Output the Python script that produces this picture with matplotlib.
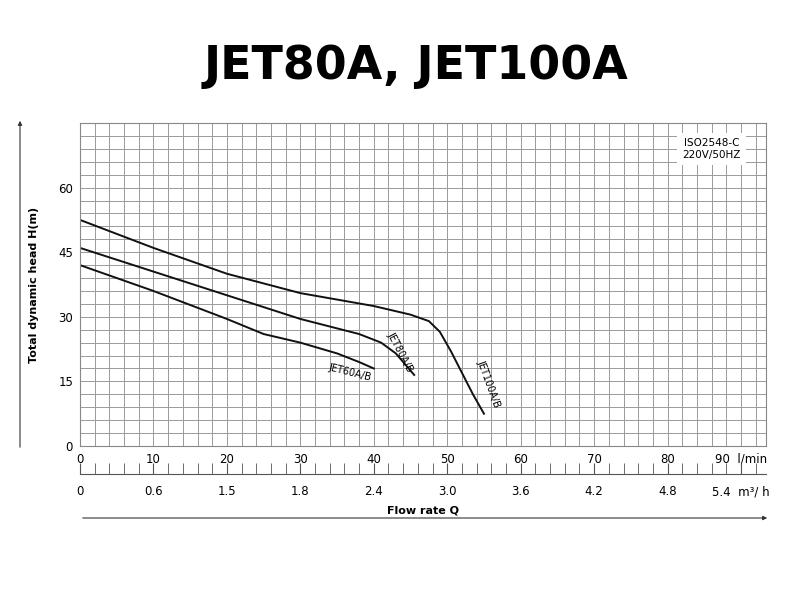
import numpy as np
import matplotlib
matplotlib.use("Agg")
import matplotlib.pyplot as plt
from matplotlib.ticker import MultipleLocator

q100 = [0, 10, 20, 30, 40, 45, 47.5, 49, 50.5, 52, 53.5, 55]
h100 = [52.5, 46, 40, 35.5, 32.5, 30.5, 29, 26.5, 22, 17, 12, 7.5]
q80 = [0, 10, 20, 30, 38, 41, 43, 44.5, 45.5]
h80 = [46, 40.5, 35, 29.5, 26, 24, 21.5, 18.5, 16.5]
q60 = [0, 10, 20, 25, 30, 35, 38, 40]
h60 = [42, 36, 29.5, 26, 24, 21.5, 19.5, 18]
xticks_lmin = [0, 10, 20, 30, 40, 50, 60, 70, 80, 90]
xticks_m3h = ["0", "0.6", "1.5", "1.8", "2.4", "3.0", "3.6", "4.2", "4.8", "5.4"]
yticks = [0, 15, 30, 45, 60]

fig = plt.figure(figsize=(8, 6.01), dpi=100)
W, H = 800, 601
def rect(x0, y0, x1, y1):
    return [x0 / W, 1 - y1 / H, (x1 - x0) / W, (y1 - y0) / H]

ax = fig.add_axes(rect(80, 123, 766, 446))
XMAX, YMAX = 93.4, 75
ax.set_xlim(0, XMAX); ax.set_ylim(0, YMAX)
ax.xaxis.set_minor_locator(MultipleLocator(2))
ax.yaxis.set_minor_locator(MultipleLocator(3))
ax.grid(which='both', color='#9a9a9a', lw=0.7)
ax.set_axisbelow(True)
for s in ax.spines.values():
    s.set_color('#888888'); s.set_linewidth(0.8)
ax.set_xticks(xticks_lmin)
ax.set_xticklabels([str(v) for v in xticks_lmin[:-1]] + ["90  l/min"], fontsize=8.5)
ax.set_yticks(yticks)
ax.tick_params(which='both', length=0, labelsize=8.5, pad=5)

for q, h in [(q100, h100), (q80, h80), (q60, h60)]:
    ax.plot(q, h, color='#111111', lw=1.4)
ax.text(36.8, 17, "JET60A/B", rotation=-14, fontsize=7, ha='center', va='center')
ax.text(43.6, 21.8, "JET80A/B", rotation=-62, fontsize=7, ha='center', va='center')
ax.text(55.6, 14.4, "JET100A/B", rotation=-70, fontsize=7, ha='center', va='center')
ax.text(86, 69, "ISO2548-C\n220V/50HZ", fontsize=7.5, ha='center', va='center',
        bbox=dict(facecolor='white', edgecolor='none', pad=4))
ax.set_ylabel("Total dynamic head H(m)", fontsize=8, fontweight='bold', labelpad=14)

ax2 = fig.add_axes(rect(80, 473, 766, 474))
ax2.set_xlim(0, XMAX); ax2.set_ylim(0, 1)
for k in ['top', 'left', 'right']:
    ax2.spines[k].set_visible(False)
ax2.spines['bottom'].set_color('#555555')
ax2.set_yticks([])
ax2.set_xticks(xticks_lmin)
ax2.set_xticklabels(xticks_m3h[:-1] + ["5.4  m³/ h"], fontsize=8.5)
ax2.xaxis.set_minor_locator(MultipleLocator(2))
ax2.tick_params(which='both', direction='in', length=8, color='#555555', pad=8)
ax2.set_xlabel("Flow rate Q", fontsize=8, fontweight='bold', labelpad=5)

fig.text(0.52, 0.89, "JET80A, JET100A", fontsize=33, fontweight='heavy', ha='center', va='center')
fig.add_artist(matplotlib.patches.FancyArrowPatch((20 / W, 1 - 450 / H), (20 / W, 1 - 118 / H),
               transform=fig.transFigure, arrowstyle='-|>', mutation_scale=6, color='#333333', lw=0.8))
fig.add_artist(matplotlib.patches.FancyArrowPatch((80 / W, 1 - 518 / H), (770 / W, 1 - 518 / H),
               transform=fig.transFigure, arrowstyle='-|>', mutation_scale=6, color='#333333', lw=0.8))
fig.savefig("out.png", dpi=100)
